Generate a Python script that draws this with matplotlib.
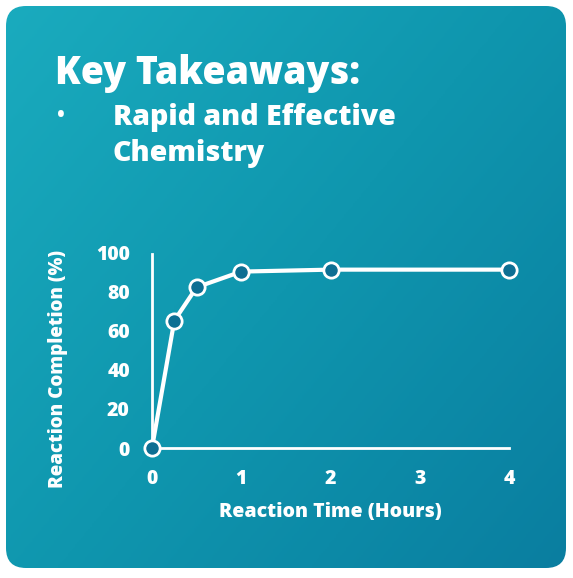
import matplotlib
matplotlib.use("Agg")
import matplotlib.pyplot as plt
import numpy as np
from matplotlib.patches import FancyBboxPatch
from matplotlib.colors import LinearSegmentedColormap

# data
hours = [0, 0.25, 0.5, 1, 2, 4]
completion = [0, 65, 82, 90, 91, 91]
xticks = [0, 1, 2, 3, 4]
yticks = [0, 20, 40, 60, 80, 100]

W, H = 573, 578
fig = plt.figure(figsize=(W / 100, H / 100), dpi=100)
fig.patch.set_facecolor("white")

# background card with gradient
bg = fig.add_axes([0, 0, 1, 1])
bg.set_xlim(0, W)
bg.set_ylim(H, 0)
bg.axis("off")
cmap = LinearSegmentedColormap.from_list("card", ["#1aabbe", "#0f96ae", "#0a7ea0"])
gx, gy = np.meshgrid(np.linspace(0, 1, 300), np.linspace(0, 1, 300))
grad = (gx * 0.55 + gy * 0.45)
card = FancyBboxPatch((6, 6), 560, 562, boxstyle="round,pad=0,rounding_size=20",
                      fc="none", ec="none")
bg.add_patch(card)
im = bg.imshow(grad, cmap=cmap, extent=(6, 566, 568, 6), aspect="auto", zorder=0)
im.set_clip_path(card)

font = "Open Sans"
wt = 800
bg.text(55, 84, "Key Takeaways:", color="white", fontsize=27, fontweight=wt,
        family=font, va="baseline", ha="left")
bg.text(57, 122, "•", color="white", fontsize=15, fontweight="bold",
        family=font, va="baseline", ha="left")
bg.text(113, 125, "Rapid and Effective", color="white", fontsize=20.5, fontweight=wt,
        family=font, va="baseline", ha="left")
bg.text(113, 161, "Chemistry", color="white", fontsize=20.5, fontweight=wt,
        family=font, va="baseline", ha="left")

# chart
x0, x1 = 152, 509
y0, y1 = 448, 252
ax = fig.add_axes([x0 / W, 1 - y0 / H, (x1 - x0) / W, (y0 - y1) / H])
ax.patch.set_alpha(0)
ax.set_xlim(0, 4)
ax.set_ylim(0, 100)
ax.plot(hours, completion, color="white", lw=3, marker="o", ms=11,
        mfc="#0d6f93", mec="white", mew=2, clip_on=False, zorder=3)
for s in ["top", "right"]:
    ax.spines[s].set_visible(False)
for s in ["left", "bottom"]:
    ax.spines[s].set_color("white")
    ax.spines[s].set_linewidth(2)
ax.spines["left"].set_bounds(0, 99)
ax.set_xticks(xticks)
ax.set_yticks(yticks)
ax.tick_params(length=0, colors="white", labelsize=14)
ax.tick_params(axis="x", pad=15)
ax.tick_params(axis="y", pad=16)
for lab in ax.get_xticklabels() + ax.get_yticklabels():
    lab.set_fontweight(wt)
    lab.set_family(font)
bg.text(330, 512, "Reaction Time (Hours)", color="white", fontsize=14, fontweight=wt,
        family=font, va="center", ha="center")
bg.text(58, 369, "Reaction Completion (%)", color="white", fontsize=13.5, fontweight=wt,
        family=font, va="center", ha="center", rotation=90)

fig.savefig("out.png", dpi=100, facecolor="white")
